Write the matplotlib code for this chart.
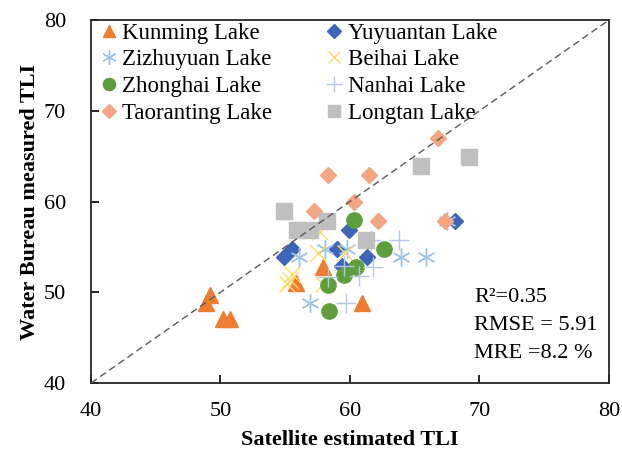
import matplotlib
matplotlib.use("Agg")
import matplotlib.pyplot as plt

# satellite estimated TLI (x) vs water bureau measured TLI (y)
kunming_x = [49.2, 48.9, 50.2, 50.7, 55.8, 57.9, 60.9]
kunming_y = [49.7, 48.8, 47.0, 47.0, 51.0, 52.8, 48.8]
yuyuantan_x = [54.9, 55.5, 59.9, 59.0, 61.3, 59.4, 68.1]
yuyuantan_y = [53.9, 54.8, 56.9, 54.8, 53.9, 52.9, 57.9]
zizhuyuan_x = [56.1, 58.1, 59.8, 63.9, 65.9, 56.9, 67.5]
zizhuyuan_y = [53.9, 54.8, 54.8, 53.9, 53.9, 48.8, 57.9]
beihai_x = [57.7, 57.5, 59.6, 55.5, 55.1, 57.9, 55.4]
beihai_y = [56.6, 54.3, 54.3, 52.0, 50.9, 50.9, 51.4]
zhonghai_x = [60.3, 62.6, 60.5, 59.5, 58.3, 58.4]
zhonghai_y = [58.0, 54.8, 52.8, 51.9, 50.8, 47.9]
nanhai_x = [63.8, 61.6, 61.8, 60.7, 58.3, 59.7, 59.5]
nanhai_y = [55.8, 55.8, 52.8, 51.8, 51.7, 48.8, 52.9]
taoranting_x = [58.3, 61.5, 60.3, 57.2, 62.2, 67.3, 66.8]
taoranting_y = [62.9, 62.9, 59.9, 59.0, 57.9, 57.9, 67.0]
longtan_x = [65.5, 69.2, 58.2, 55.9, 56.9, 54.9, 61.2]
longtan_y = [63.9, 64.9, 57.9, 56.9, 56.9, 59.0, 55.8]

stats_text = "R\u00b2=0.35\nRMSE = 5.91\nMRE =8.2 %"

plt.rcParams["font.family"] = ["Liberation Serif", "DejaVu Serif"]

fig = plt.figure(figsize=(6.22, 4.55), dpi=100)
ax = fig.add_axes([0.1463, 0.1582, 0.8328, 0.7978])

series = [
    ("Kunming Lake", kunming_x, kunming_y, dict(marker="^", ms=11.5, color="#ED7D31")),
    ("Yuyuantan Lake", yuyuantan_x, yuyuantan_y, dict(marker="D", ms=8.5, color="#3E66B8")),
    ("Zizhuyuan Lake", zizhuyuan_x, zizhuyuan_y,
     dict(marker=(6, 2, 0), ms=13, mew=1.0, color="#9DC3E6")),
    ("Beihai Lake", beihai_x, beihai_y, dict(marker="x", ms=11, mew=1.0, color="#FFD966")),
    ("Zhonghai Lake", zhonghai_x, zhonghai_y, dict(marker="o", ms=11, color="#5E9E3C")),
    ("Nanhai Lake", nanhai_x, nanhai_y, dict(marker="+", ms=14, mew=1.0, color="#B4C7E7")),
    ("Taoranting Lake", taoranting_x, taoranting_y, dict(marker="D", ms=8.5, color="#F4A582")),
    ("Longtan Lake", longtan_x, longtan_y, dict(marker="s", ms=11, color="#BFBFBF")),
]

handles = {}
for name, xs, ys, st in series:
    (h,) = ax.plot(xs, ys, linestyle="none", markeredgecolor=st["color"], **st, label=name)
    handles[name] = h

# 1:1 line
ax.plot([40, 80], [40, 80], color="#595959", lw=1.0, ls=(0, (5, 3)), zorder=5)

ax.set_xlim(40, 80)
ax.set_ylim(40, 80)
ax.set_xticks([40, 50, 60, 70, 80])
ax.set_yticks([40, 50, 60, 70, 80])
ax.tick_params(axis="both", direction="in", length=6, width=1.2, labelsize=16)
ax.tick_params(axis="x", pad=14)
ax.tick_params(axis="y", pad=18)
for sp in ax.spines.values():
    sp.set_linewidth(1.3)
    sp.set_color("#262626")

ax.set_xlabel("Satellite estimated TLI", fontsize=16, fontweight="bold", labelpad=6)
ax.set_ylabel("Water Bureau measured TLI", fontsize=16, fontweight="bold", labelpad=3)

ax.text(69.6, 46.3, stats_text, fontsize=16, va="center", ha="left", linespacing=1.65)

order = ["Kunming Lake", "Zizhuyuan Lake", "Zhonghai Lake", "Taoranting Lake",
         "Yuyuantan Lake", "Beihai Lake", "Nanhai Lake", "Longtan Lake"]
ax.legend([handles[n] for n in order], order, ncol=2, loc="upper left",
          bbox_to_anchor=(-0.01, 1.03), frameon=False, fontsize=16.5,
          handlelength=0.8, handletextpad=0.2, columnspacing=2.3,
          labelspacing=0.24, markerscale=0.8, borderaxespad=0.2)

fig.savefig("out.png", dpi=100)
